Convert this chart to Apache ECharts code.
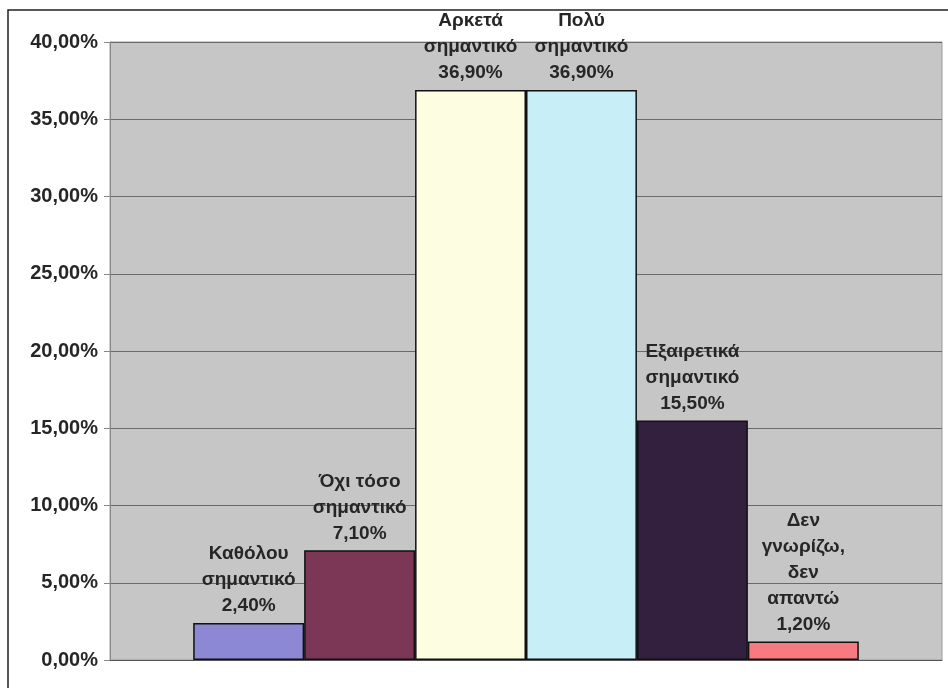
<!DOCTYPE html>
<html>
<head>
<meta charset="utf-8">
<script src="https://cdn.jsdelivr.net/npm/echarts@6/dist/echarts.min.js"></script>
<style>html,body{margin:0;padding:0;background:#fff}#c{width:948px;height:688px}</style>
</head>
<body>
<div id="c"></div>
<script>
var categories = [''];
var seriesNames = ['Καθόλου\nσημαντικό', 'Όχι τόσο\nσημαντικό', 'Αρκετά\nσημαντικό', 'Πολύ\nσημαντικό', 'Εξαιρετικά\nσημαντικό', 'Δεν\nγνωρίζω,\nδεν\nαπαντώ'];
var values = [2.4, 7.1, 36.9, 36.9, 15.5, 1.2];
var colors = ['#8c88d4', '#7c3656', '#fdfde2', '#c8eef8', '#33203f', '#f77a80'];
var yTicks = {min: 0, max: 40, interval: 5};

function pct(v) { return v.toFixed(2).replace('.', ',') + '%'; }

var series = seriesNames.map(function (name, i) {
  return {
    name: name,
    type: 'bar',
    data: [values[i]],
    barGap: '0%',
    barCategoryGap: '20%',
    itemStyle: {color: colors[i], borderColor: '#111', borderWidth: 1.5},
    label: {
      show: true,
      position: 'top',
      distance: 4,
      color: '#262626',
      fontFamily: 'Liberation Sans, Arial, sans-serif',
      fontWeight: 'bold',
      fontSize: 19,
      lineHeight: 26,
      align: 'center',
      formatter: function () { return name + '\n' + pct(values[i]); }
    }
  };
});

var chart = echarts.init(document.getElementById('c'));
chart.setOption({
  backgroundColor: '#fff',
  animation: false,
  graphic: [{
    type: 'rect',
    shape: {x: 8, y: 10, width: 960, height: 700},
    style: {fill: 'none', stroke: '#222', lineWidth: 1.5},
    z: -10
  }],
  grid: {
    left: 110, right: 6, top: 42, bottom: 28,
    show: true, backgroundColor: '#c6c6c6', borderColor: '#9a9a9a', borderWidth: 1
  },
  xAxis: {
    type: 'category',
    data: categories,
    axisLabel: {show: false},
    axisTick: {show: false},
    axisLine: {lineStyle: {color: '#555'}}
  },
  yAxis: {
    type: 'value',
    min: yTicks.min, max: yTicks.max, interval: yTicks.interval,
    axisLine: {show: true, lineStyle: {color: '#888'}},
    axisTick: {show: true, length: 6, lineStyle: {color: '#888'}},
    axisLabel: {
      formatter: pct,
      color: '#262626',
      fontFamily: 'Liberation Sans, Arial, sans-serif',
      fontWeight: 'bold',
      fontSize: 20,
      margin: 12
    },
    splitLine: {lineStyle: {color: '#6a6a6a', width: 1}}
  },
  series: series
});
</script>
</body>
</html>
